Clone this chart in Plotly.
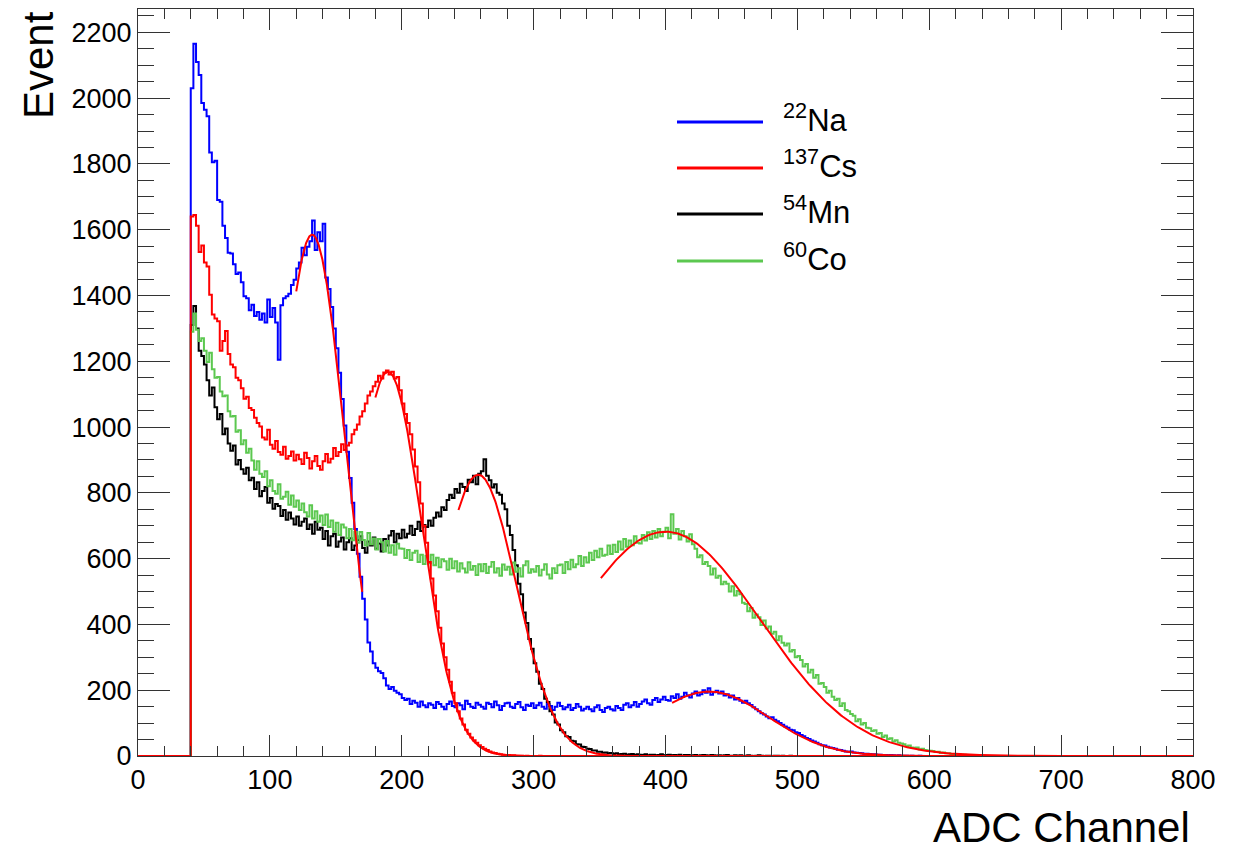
import numpy as np
import plotly.graph_objects as go

# ---------------------------------------------------------------------------
# Spectra: counts per 2-channel bin, first bin starts at channel 40
# ---------------------------------------------------------------------------
FIRST_CHANNEL = 40
BIN_WIDTH = 2
AXIS_MAX = 800

na22_counts = [
    2030, 2165, 2110, 2070, 1985, 1965, 1945, 1835, 1805, 1810,
    1690, 1685, 1612, 1575, 1530, 1528, 1495, 1465, 1470, 1440,
    1398, 1392, 1355, 1372, 1338, 1350, 1326, 1345, 1318, 1388,
    1335, 1362, 1318, 1205, 1370, 1392, 1398, 1405, 1432, 1448,
    1482, 1500, 1545, 1522, 1548, 1565, 1628, 1538, 1592, 1565,
    1618, 1455, 1420, 1365, 1300, 1240, 1165, 1085, 1005, 925,
    845, 770, 690, 615, 545, 478, 415, 345, 318, 282,
    268, 258, 252, 236, 214, 204, 210, 198, 192, 188,
    176, 170, 174, 158, 168, 162, 150, 166, 154, 148,
    160, 156, 146, 164, 158, 150, 142, 158, 166, 152,
    148, 160, 154, 142, 168, 158, 150, 146, 162, 156,
    150, 144, 162, 158, 148, 166, 154, 140, 152, 160,
    162, 150, 146, 158, 164, 148, 140, 156, 152, 160,
    146, 154, 162, 150, 144, 158, 152, 140, 150, 162,
    152, 142, 148, 156, 140, 146, 158, 150, 138, 144,
    150, 142, 136, 148, 154, 140, 134, 146, 150, 142,
    138, 152, 146, 140, 156, 160, 148, 154, 164, 150,
    158, 166, 172, 160, 156, 170, 176, 164, 172, 180,
    170, 168, 182, 176, 188, 174, 180, 192, 184, 178,
    190, 196, 184, 188, 200, 192, 206, 186, 194, 198,
    190, 196, 184, 188, 178, 184, 172, 176, 168, 162,
    168, 160, 155, 148, 142, 136, 130, 126, 120, 115,
    118, 110, 106, 100, 95, 90, 86, 80, 78, 72,
    70, 64, 60, 55, 52, 47, 44, 40, 36, 33,
    32, 28, 26, 24, 22, 19, 18, 16, 14, 13,
    14, 11, 10, 9, 8, 7, 7, 6, 5, 5,
    4, 4, 3, 3, 2, 3, 2, 1, 2, 1,
    1, 1, 0, 1, 0, 0, 1, 0, 0, 0,
]

cs137_counts = [
    1640, 1645, 1612, 1532, 1552, 1500, 1488, 1402, 1342, 1330,
    1322, 1232, 1262, 1292, 1222, 1190, 1182, 1150, 1142, 1118,
    1086, 1092, 1058, 1052, 1028, 1012, 1002, 968, 962, 992,
    946, 934, 958, 924, 916, 940, 904, 912, 926, 898,
    916, 902, 888, 922, 906, 874, 896, 912, 882, 870,
    896, 918, 892, 904, 936, 912, 924, 948, 930, 944,
    952, 978, 992, 1008, 1032, 1048, 1072, 1096, 1108, 1124,
    1138, 1156, 1148, 1166, 1172, 1160, 1168, 1148, 1152, 1112,
    1072, 1040, 1012, 978, 932, 880, 832, 768, 700, 648,
    590, 540, 488, 440, 390, 342, 300, 262, 226, 192,
    160, 136, 114, 96, 80, 68, 56, 48, 40, 33,
    27, 22, 18, 14, 11, 9, 7, 5, 4, 3,
    3, 2, 2, 1, 1, 1, 0, 1, 0, 0,
    0, 0, 1, 0, 0, 0, 0, 0, 0, 0,
]

mn54_counts = [
    1310, 1368, 1300, 1232, 1216, 1190, 1142, 1096, 1120, 1060,
    1024, 1040, 978, 996, 950, 928, 944, 886, 900, 872,
    858, 876, 838, 846, 812, 832, 790, 806, 818, 770,
    784, 752, 766, 760, 730, 748, 718, 740, 722, 704,
    728, 700, 712, 722, 690, 704, 676, 712, 688, 694,
    660, 684, 640, 668, 676, 636, 652, 664, 628, 650,
    662, 626, 640, 656, 668, 632, 618, 652, 640, 664,
    630, 646, 622, 660, 640, 670, 684, 650, 676, 662,
    688, 664, 676, 700, 672, 690, 712, 684, 702, 696,
    716, 700, 724, 740, 728, 756, 748, 778, 794, 784,
    812, 800, 828, 818, 806, 840, 832, 852, 826, 858,
    866, 902, 852, 838, 816, 826, 800, 794, 768, 750,
    700, 672, 626, 580, 524, 492, 436, 404, 356, 326,
    282, 256, 220, 204, 174, 164, 136, 126, 102, 96,
    78, 72, 60, 58, 46, 45, 36, 35, 28, 27,
    22, 21, 17, 17, 13, 13, 10, 11, 8, 9,
    6, 8, 5, 6, 7, 4, 5, 6, 3, 5,
    4, 3, 5, 2, 4, 4, 2, 3, 5, 2,
    3, 4, 2, 3, 2, 4, 1, 3, 3, 2,
    2, 3, 1, 2, 3, 2, 1, 3, 2, 1,
    2, 1, 2, 3, 1, 1, 2, 1, 2, 1,
    1, 2, 1, 0, 1, 2, 1, 0, 1, 1,
    0, 1, 1, 0, 1, 0, 0, 1, 0, 0,
]

co60_counts = [
    1290, 1345, 1296, 1262, 1270, 1232, 1198, 1226, 1176, 1150,
    1152, 1108, 1094, 1096, 1048, 1032, 1034, 986, 990, 948,
    960, 922, 934, 898, 870, 896, 858, 848, 866, 820,
    838, 806, 797, 826, 782, 788, 803, 764, 792, 758,
    777, 748, 768, 741, 728, 762, 722, 744, 712, 731,
    702, 734, 696, 716, 682, 709, 672, 704, 695, 662,
    690, 656, 682, 648, 681, 657, 640, 678, 644, 661,
    628, 660, 650, 622, 654, 618, 641, 612, 645, 631,
    630, 602, 626, 596, 618, 624, 590, 612, 584, 609,
    586, 612, 580, 603, 574, 598, 592, 566, 600, 571,
    592, 561, 586, 570, 558, 589, 566, 578, 550, 583,
    562, 584, 556, 575, 590, 558, 571, 548, 582, 566,
    575, 552, 588, 560, 571, 546, 580, 592, 557, 568,
    560, 578, 549, 566, 583, 552, 540, 571, 556, 580,
    582, 556, 590, 568, 597, 574, 583, 608, 578, 604,
    588, 618, 596, 624, 604, 630, 609, 612, 640, 614,
    642, 620, 652, 628, 660, 636, 655, 641, 668, 648,
    646, 672, 655, 680, 660, 684, 664, 690, 668, 682,
    694, 662, 735, 676, 690, 658, 684, 668, 652, 674,
    644, 630, 604, 610, 584, 590, 578, 552, 570, 542,
    548, 522, 530, 524, 500, 516, 488, 502, 492, 466,
    462, 440, 450, 420, 430, 422, 398, 412, 388, 394,
    372, 378, 352, 364, 344, 336, 342, 318, 322, 300,
    304, 292, 272, 280, 254, 262, 238, 246, 220, 222,
    210, 192, 198, 180, 170, 174, 152, 160, 140, 136,
    128, 122, 106, 112, 96, 100, 86, 84, 76, 78,
    68, 70, 58, 62, 52, 54, 44, 48, 40, 38,
    36, 30, 32, 26, 25, 26, 20, 22, 18, 17,
    16, 15, 12, 13, 9, 11, 8, 8, 6, 6,
    5, 5, 3, 4, 3, 2, 3, 1, 2, 1,
]

# Gaussian photopeak fits: (mean, sigma, amplitude, fit range)
fit_mean = [132, 433, 189.5, 258, 400]
fit_sigma = [25, 45, 25.5, 29, 72]
fit_amp = [1585, 196, 1168, 855, 682]
fit_lo = [120, 405, 180, 243, 351]
fit_hi = [170, 600, 300, 380, 700]

source_labels = ["<sup>22</sup>Na", "<sup>137</sup>Cs", "<sup>54</sup>Mn", "<sup>60</sup>Co"]
source_colors = ["#0000ff", "#ff0000", "#000000", "#5cc850"]
FIT_COLOR = "#ff0000"

FONT = "Liberation Sans, Arial, Helvetica, sans-serif"
W, H = 1250, 854
ML, MR, MT, MB = 138, 57, 9, 98
Y_MAX = 2271


def hist_xy(counts):
    """Step outline over the full axis range (empty bins are zero)."""
    nbins = AXIS_MAX // BIN_WIDTH
    full = np.zeros(nbins)
    start = FIRST_CHANNEL // BIN_WIDTH
    full[start:start + len(counts)] = counts
    edges = np.arange(nbins + 1) * BIN_WIDTH
    y = np.append(full, full[-1])
    return edges, y


fig = go.Figure()

series = {
    "Na": (na22_counts, source_colors[0]),
    "Cs": (cs137_counts, source_colors[1]),
    "Mn": (mn54_counts, source_colors[2]),
    "Co": (co60_counts, source_colors[3]),
}
for key in ["Na", "Mn", "Co", "Cs"]:
    counts, color = series[key]
    x, y = hist_xy(counts)
    fig.add_trace(go.Scatter(
        x=x, y=y, mode="lines", line=dict(color=color, width=2, shape="hv"),
        showlegend=False, hoverinfo="skip",
    ))

for m, s, a, lo, hi in zip(fit_mean, fit_sigma, fit_amp, fit_lo, fit_hi):
    xf = np.linspace(lo, hi, 300)
    yf = a * np.exp(-0.5 * ((xf - m) / s) ** 2)
    fig.add_trace(go.Scatter(
        x=xf, y=yf, mode="lines", line=dict(color=FIT_COLOR, width=2),
        showlegend=False, hoverinfo="skip",
    ))

plot_w = W - ML - MR
plot_h = H - MT - MB


def px_to_paper(px, py):
    return (px - ML) / plot_w, (H - MB - py) / plot_h


# Legend drawn by hand (long line samples, large labels)
legend_x0, legend_x1, legend_text_x = 677, 763, 781
legend_rows = [122, 168, 214, 261]
shapes = []
annotations = []
for label, color, row in zip(source_labels, source_colors, legend_rows):
    x0, y0 = px_to_paper(legend_x0, row)
    x1, _ = px_to_paper(legend_x1, row)
    shapes.append(dict(type="line", xref="paper", yref="paper",
                       x0=x0, x1=x1, y0=y0, y1=y0,
                       line=dict(color=color, width=3)))
    tx, ty = px_to_paper(legend_text_x, row - 4)
    annotations.append(dict(xref="paper", yref="paper", x=tx, y=ty,
                            xanchor="left", yanchor="middle", showarrow=False,
                            text=label, font=dict(family=FONT, size=31, color="black")))

# Axis titles, aligned to the axis ends
tx, ty = px_to_paper(1192, 827)
annotations.append(dict(xref="paper", yref="paper", x=tx, y=ty,
                        xanchor="right", yanchor="middle", showarrow=False,
                        text="ADC Channel", font=dict(family=FONT, size=42, color="black")))
tx, ty = px_to_paper(38, 9)
annotations.append(dict(xref="paper", yref="paper", x=tx, y=ty,
                        xanchor="center", yanchor="top", showarrow=False, textangle=-90,
                        text="Event", font=dict(family=FONT, size=42, color="black")))

axis_common = dict(
    showline=True, linecolor="#333333", linewidth=1, mirror="ticks",
    ticks="inside", tickwidth=1, tickcolor="#333333",
    showgrid=False, zeroline=False,
    tickfont=dict(family=FONT, size=27, color="black"),
)

fig.update_layout(
    width=W, height=H,
    margin=dict(l=ML, r=MR, t=MT, b=MB),
    paper_bgcolor="white", plot_bgcolor="white",
    xaxis=dict(range=[0, AXIS_MAX], dtick=100, tick0=0, ticklen=21,
               minor=dict(ticks="inside", ticklen=10, dtick=20, tickcolor="#333333", tickwidth=1),
               **axis_common),
    yaxis=dict(range=[0, Y_MAX], dtick=200, tick0=0, ticklen=32,
               minor=dict(ticks="inside", ticklen=16, dtick=50, tickcolor="#333333", tickwidth=1),
               **axis_common),
    shapes=shapes,
    annotations=annotations,
    showlegend=False,
)

fig.write_html("out.html")
